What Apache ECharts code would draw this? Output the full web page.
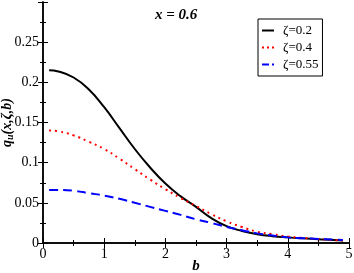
<!DOCTYPE html>
<html>
<head>
<meta charset="utf-8">
<style>
  html, body { margin: 0; padding: 0; background: #fff; }
</style>
</head>
<body>
<div id="chart" style="width: 354px; height: 273px;"></div>

<script src="https://cdn.jsdelivr.net/npm/echarts/dist/echarts.min.js"></script>
<script>
    // values
    var bValues = [0.1, 0.25, 0.5, 0.75, 1, 1.25, 1.5, 1.75, 2, 2.25, 2.5, 2.75, 3, 3.25, 3.5, 3.75, 4, 4.25, 4.5, 4.75, 4.9];
    var zeta02 = [0.215, 0.2135, 0.206, 0.191, 0.169, 0.143, 0.117, 0.094, 0.074, 0.058, 0.045, 0.031, 0.021, 0.015, 0.011, 0.0085, 0.007, 0.0058, 0.0048, 0.0038, 0.003];
    var zeta04 = [0.140, 0.139, 0.134, 0.126, 0.117, 0.105, 0.092, 0.079, 0.067, 0.056, 0.046, 0.036, 0.027, 0.020, 0.014, 0.011, 0.008, 0.0063, 0.0048, 0.0037, 0.003];
    var zeta055 = [0.066, 0.066, 0.065, 0.062, 0.059, 0.055, 0.050, 0.045, 0.040, 0.035, 0.0295, 0.025, 0.020, 0.016, 0.012, 0.0093, 0.007, 0.006, 0.005, 0.0042, 0.0037];
    var seriesNames = ['ζ=0.2', 'ζ=0.4', 'ζ=0.55'];

    function pairs(ys) {
        return bValues.map(function (b, i) { return [b, ys[i]]; });
    }

    var font = 'Liberation Serif';
    var myChart = echarts.init(document.getElementById('chart'));

    var axisCommon = {
        axisLine: { lineStyle: { color: '#000', width: 1.5 } },
        axisTick: { inside: true, length: 5, lineStyle: { color: '#000' } },
        minorTick: { show: true, splitNumber: 2, length: 3, lineStyle: { color: '#000' } },
        splitLine: { show: false }
    };

    var option = {
        animation: false,
        title: {
            text: 'x = 0.6',
            left: 150,
            top: 3,
            textStyle: { fontFamily: font, fontSize: 15, fontWeight: 'bold', fontStyle: 'italic', color: '#000' }
        },
        legend: {
            orient: 'vertical',
            left: 258,
            top: 19,
            padding: [5, 4, 5, 4],
            itemGap: 4,
            itemWidth: 12,
            itemHeight: 2,
            borderColor: '#000',
            borderWidth: 1,
            borderRadius: 0,
            textStyle: { fontFamily: font, fontSize: 13, color: '#000', padding: [0, 0, 0, 4] },
            data: [
                { name: seriesNames[0], icon: 'path://M0,0h12v2h-12z' },
                { name: seriesNames[1], icon: 'path://M0,0h2v2h-2zM5,0h2v2h-2zM10,0h2v2h-2z' },
                { name: seriesNames[2], icon: 'path://M0,0h7v2h-7zM10,0h2v2h-2z' }
            ]
        },
        grid: { left: 43, right: 5, top: 2, bottom: 30, containLabel: false, outerBoundsMode: 'none' },
        xAxis: [
            Object.assign({}, axisCommon, {
                type: 'value', min: 0, max: 5, interval: 1,
                name: 'b', nameLocation: 'middle', nameGap: 16, nameMoveOverlap: false,
                nameTextStyle: { fontFamily: font, fontSize: 15, fontWeight: 'bold', fontStyle: 'italic', color: '#000' },
                axisLabel: { fontFamily: font, fontSize: 14, color: '#000', margin: 4 }
            }),
            Object.assign({}, axisCommon, {
                type: 'value', min: 0, max: 5, interval: 1, position: 'top',
                axisLabel: { show: false }
            })
        ],
        yAxis: [
            Object.assign({}, axisCommon, {
                type: 'value', min: 0, max: 0.3, interval: 0.05,
                name: '{q|q}{s|u}{q|(x,ζ,b)}', nameLocation: 'middle', nameGap: 28, nameRotate: 90, nameMoveOverlap: false,
                nameTextStyle: {
                    rich: {
                        q: { fontFamily: font, fontSize: 14, fontWeight: 'bold', fontStyle: 'italic', color: '#000' },
                        s: { fontFamily: font, fontSize: 10, fontWeight: 'bold', fontStyle: 'italic', color: '#000', verticalAlign: 'bottom', padding: [6, 0, 0, 0] }
                    }
                },
                axisLabel: {
                    fontFamily: font, fontSize: 14, color: '#000', margin: 4,
                    showMaxLabel: false,
                    formatter: function (v) { return +v.toFixed(2) + ''; }
                }
            }),
            Object.assign({}, axisCommon, {
                type: 'value', min: 0, max: 0.3, interval: 0.05, position: 'right',
                axisLabel: { show: false }
            })
        ],
        series: [
            {
                name: seriesNames[0], type: 'line', smooth: 0.5, symbol: 'none',
                lineStyle: { color: '#000', width: 2, type: 'solid' }, itemStyle: { color: '#000' },
                data: pairs(zeta02)
            },
            {
                name: seriesNames[1], type: 'line', smooth: 0.5, symbol: 'none',
                lineStyle: { color: '#ff0000', width: 2, type: [2, 4] }, itemStyle: { color: '#ff0000' },
                data: pairs(zeta04)
            },
            {
                name: seriesNames[2], type: 'line', smooth: 0.5, symbol: 'none',
                lineStyle: { color: '#0000ff', width: 2, type: [9, 5] }, itemStyle: { color: '#0000ff' },
                data: pairs(zeta055)
            }
        ]
    };

    myChart.setOption(option);
</script>
</body>
</html>
